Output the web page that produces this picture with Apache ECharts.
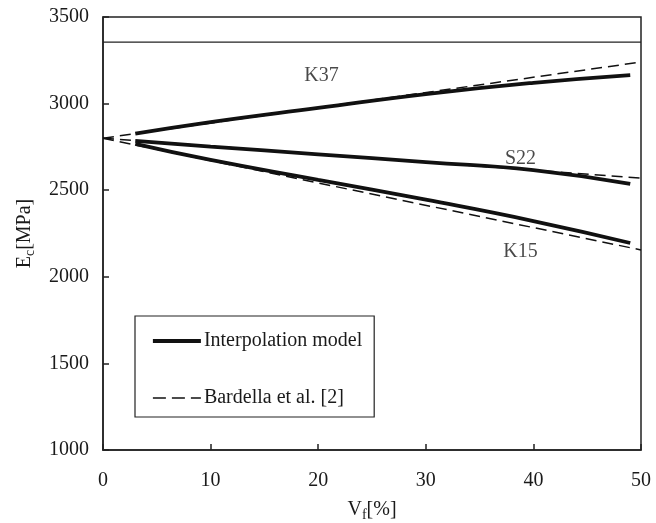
<!DOCTYPE html>
<html><head><meta charset="utf-8">
<script src="https://cdn.jsdelivr.net/npm/echarts@6/dist/echarts.min.js"></script>
<style>html,body{margin:0;padding:0;background:#fff}#c{width:656px;height:523px}</style>
</head><body><div id="c"></div>
<script>
// Data
var vf = [3, 10, 20, 30, 40, 49];
var k37Model = [2826, 2893, 2975, 3055, 3120, 3165];
var s22Model = [2785, 2752, 2707, 2662, 2616, 2536];
var k15Model = [2768, 2675, 2560, 2445, 2322, 2195];
var bardX = [0, 50];
var k37Bard = [2800, 3240];
var s22Bard = [2800, 2570];
var k15Bard = [2800, 2155];
var refLine = [3355, 3355];
var curveLabels = ['K37', 'S22', 'K15'];
var labelX = [20.3, 38.8, 38.8];
var labelY = [3158, 2680, 2143];
var yTicks = [1000, 1500, 2000, 2500, 3000, 3500];
var xTicks = [0, 10, 20, 30, 40, 50];

var FONT = 'Liberation Serif';
function pairs(xs, ys){ return xs.map(function(x,i){ return [x, ys[i]]; }); }
var solidStyle = {color:'#111', width:3.8, type:'solid'};
var dashStyle = {color:'#111', width:1.5, type:[11,6]};
function solid(ys){ return {name:'Interpolation model', type:'line', smooth:true, symbol:'none', showSymbol:false, lineStyle:solidStyle, itemStyle:{color:'#111'}, data:pairs(vf, ys), z:3}; }
function dashed(ys){ return {name:'Bardella et al. [2]', type:'line', symbol:'none', showSymbol:false, lineStyle:dashStyle, itemStyle:{color:'#111'}, data:pairs(bardX, ys), z:2}; }

var chart = echarts.init(document.getElementById('c'));
chart.setOption({
  animation:false,
  textStyle:{fontFamily:FONT},
  grid:{left:103, right:15, top:17, bottom:73, containLabel:false, outerBoundsMode:'none', show:true, borderColor:'#222', borderWidth:1.5, backgroundColor:'transparent'},
  legend:{
    data:[
      {name:'Interpolation model', lineStyle:{width:3.8, type:'solid', color:'#111'}},
      {name:'Bardella et al. [2]', lineStyle:{width:1.5, type:[13,6], color:'#111'}}
    ],
    orient:'vertical', left:135, top:316,
    itemWidth:48, itemHeight:20, itemGap:37,
    padding:[15, 12, 9, 16],
    borderColor:'#222', borderWidth:1.2,
    itemStyle:{opacity:0},
    textStyle:{fontFamily:FONT, fontSize:20, color:'#1a1a1a', padding:[0,0,0,-2]},
    selectedMode:false
  },
  xAxis:{
    type:'value', min:0, max:50, interval:10,
    axisLine:{show:true, lineStyle:{color:'#222', width:1.5}},
    axisTick:{show:true, inside:true, length:6, lineStyle:{color:'#222', width:1.5}},
    splitLine:{show:false},
    axisLabel:{fontFamily:FONT, fontSize:20, color:'#1a1a1a', margin:21,
      formatter:function(v){ return xTicks.indexOf(v)>=0 ? String(v) : ''; }},
    name:'{b|V}{s|f}{b|[%]}', nameLocation:'middle', nameGap:48,
    nameTextStyle:{rich:{b:{fontFamily:FONT, fontSize:20, color:'#1a1a1a'}, s:{fontFamily:FONT, fontSize:14, color:'#1a1a1a', verticalAlign:'bottom', padding:[10,0,0,0]}}}
  },
  yAxis:{
    type:'value', min:1000, max:3500, interval:500,
    axisLine:{show:true, lineStyle:{color:'#222', width:1.5}},
    axisTick:{show:true, inside:true, length:6, lineStyle:{color:'#222', width:1.5}},
    splitLine:{show:false},
    axisLabel:{fontFamily:FONT, fontSize:20, color:'#1a1a1a', margin:14,
      formatter:function(v){ return yTicks.indexOf(v)>=0 ? String(v) : ''; }},
    name:'{b|E}{s|c}{b|[MPa]}', nameLocation:'middle', nameGap:66, nameRotate:90,
    nameTextStyle:{rich:{b:{fontFamily:FONT, fontSize:20, color:'#1a1a1a'}, s:{fontFamily:FONT, fontSize:14, color:'#1a1a1a', verticalAlign:'bottom', padding:[10,0,0,0]}}}
  },
  series:[
    solid(k37Model), solid(s22Model), solid(k15Model),
    dashed(k37Bard), dashed(s22Bard), dashed(k15Bard),
    {name:'ref', type:'line', symbol:'none', lineStyle:{color:'#222', width:1.2}, data:pairs(bardX, refLine), z:1},
    {name:'labels', type:'scatter', symbolSize:0, silent:true,
     data:labelX.map(function(x,i){ return {value:[x, labelY[i]], name:curveLabels[i]}; }),
     label:{show:true, position:'inside', formatter:'{b}', fontFamily:FONT, fontSize:20, color:'#1a1a1a'}}
  ]
});
</script></body></html>
